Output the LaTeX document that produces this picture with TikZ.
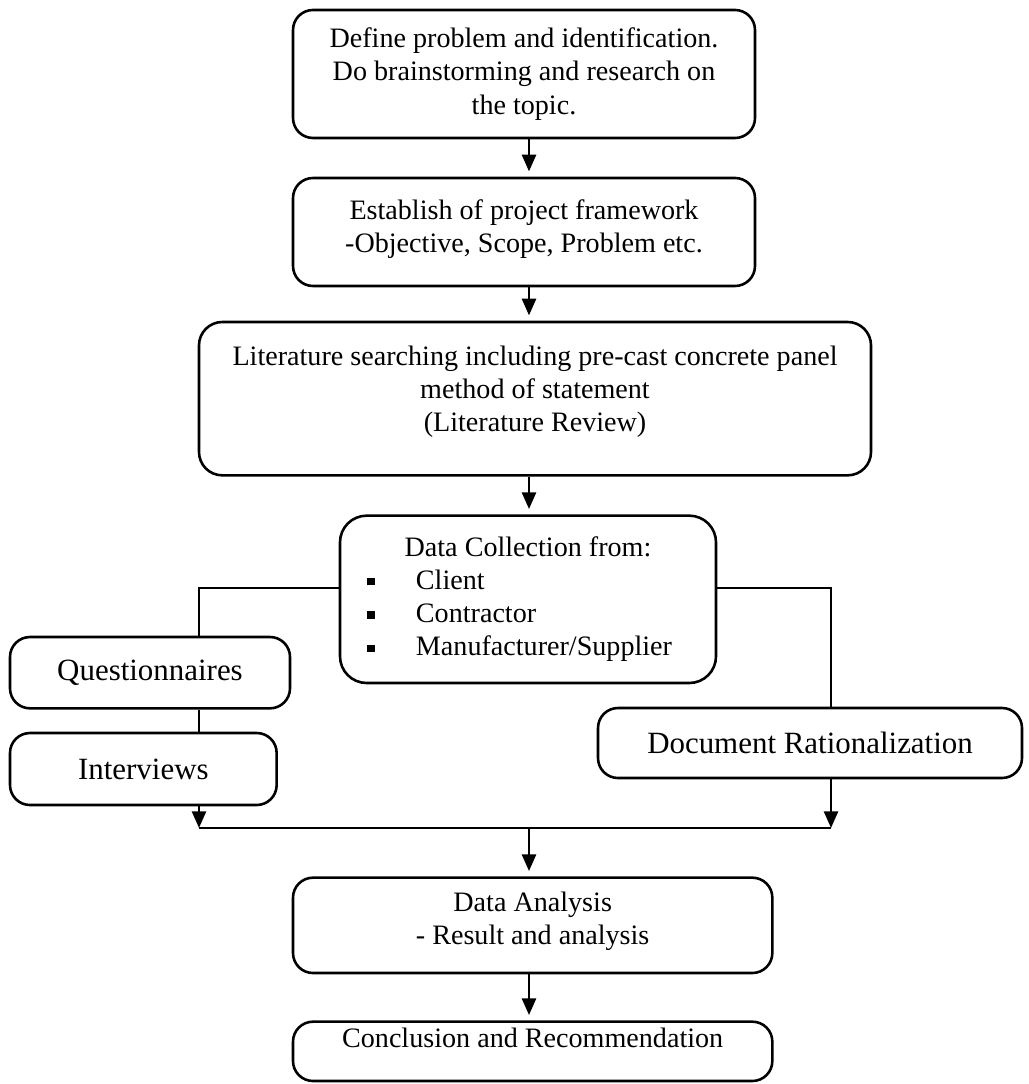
\documentclass[tikz,border=0pt]{standalone}
\usepackage{fontspec}
\setmainfont{Liberation Serif}
\usetikzlibrary{arrows.meta,calc,positioning}
\newcommand{\padbelow}[1]{\rule[-#1]{0pt}{0pt}}
\newcommand{\sqbullet}{\rule[0.06cm]{0.11cm}{0.11cm}}

\begin{document}
\begin{tikzpicture}[
  box/.style={draw=black, line width=1.1pt, rounded corners=3mm, align=center, inner sep=0pt, font=\fontsize{12}{14.2}\selectfont},
  bigbox/.style={box, font=\fontsize{13.2}{15.8}\selectfont},
  link/.style={draw=black, line width=1.1pt},
  arr/.style={link, -{Triangle[length=2.5mm, width=2.1mm]}},
  flow/.style={arr, shorten >=0.8mm},
]
\useasboundingbox (0,0) rectangle (15.42,-16.26);
\def\xs{7.935} \def\xl{2.985} \def\xr{12.465} \def\yf{-8.82} \def\ym{-12.42}
\coordinate (spine) at (\xs,0);
% ---------------- main column
\node[box, minimum width=6.93cm, minimum height=1.92cm] (define) at (7.86,-1.11)
  {Define problem and identification.\\ Do brainstorming and research on\\ the topic.};
\node[box, minimum width=6.93cm, minimum height=1.62cm] (frame) at (7.86,-3.48)
  {Establish of project framework\\ -Objective, Scope, Problem etc.\padbelow{0.18cm}};
\node[box, minimum width=10.08cm, minimum height=2.3cm, rounded corners=3.5mm] (lit) at (8.025,-5.98)
  {Literature searching including pre-cast concrete panel\\ method of statement\\ (Literature Review)\padbelow{0.3cm}};
\node[box, minimum width=5.64cm, minimum height=2.51cm, rounded corners=4mm] (collect) at (7.92,-8.99)
  {\begin{tabular}{@{}l@{\hspace{0.62cm}}l@{\hspace{0.25cm}}}
   \multicolumn{2}{@{}c@{}}{Data Collection from:}\\
   \sqbullet & Client\\
   \sqbullet & Contractor\\
   \sqbullet & Manufacturer/Supplier
   \end{tabular}};
\draw[flow] (define.south -| spine) -- (frame.north -| spine);
\draw[flow] (frame.south -| spine) -- (lit.north -| spine);
\draw[flow] (lit.south -| spine) -- (collect.north -| spine);
% ---------------- collection methods
\coordinate (fl) at (\xl,\yf);
\coordinate (fr) at (\xr,\yf);
\coordinate (merge) at (\xs,\ym);
\node[bigbox, minimum width=4.2cm, minimum height=1.07cm] (quest) at (2.25,-10.09) {Questionnaires};
\node[bigbox, minimum width=4.0cm, minimum height=1.08cm] (interv) at (2.15,-11.535) {Interviews};
\node[bigbox, minimum width=6.36cm, minimum height=1.05cm] (docrat) at (12.15,-11.145) {Document Rationalization};
\draw[link] (collect.west |- fl) -- (fl) -- (quest.north -| fl);
\draw[link] (quest.south -| fl) -- (interv.north -| fl);
\draw[link] (collect.east |- fr) -- (fr) -- (docrat.north -| fr);
\draw[arr] (interv.south -| fl) -- (fl |- merge);
\draw[arr] (docrat.south -| fr) -- (fr |- merge);
\draw[link] (fl |- merge) -- (fr |- merge);
% ---------------- analysis and output
\node[box, minimum width=7.19cm, minimum height=1.43cm] (analysis) at (7.99,-13.88)
  {Data Analysis\\ - Result and analysis\padbelow{0.21cm}};
\node[box, minimum width=7.19cm, minimum height=0.89cm] (concl) at (7.99,-15.77)
  {Conclusion and Recommendation\padbelow{0.42cm}};
\draw[flow] (merge) -- (analysis.north -| spine);
\draw[flow] (analysis.south -| spine) -- (concl.north -| spine);
\end{tikzpicture}
\end{document}
